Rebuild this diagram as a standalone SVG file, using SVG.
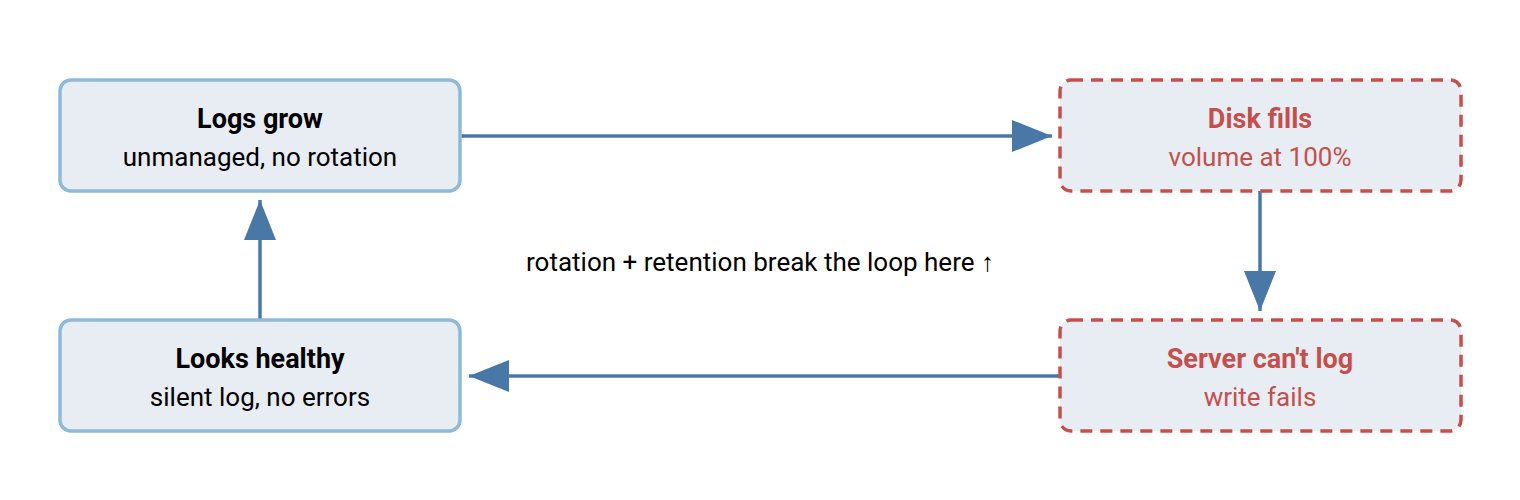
<svg xmlns="http://www.w3.org/2000/svg" width="1520" height="500" viewBox="0 0 1520 500">
<style>
.box{fill:#e8edf4;stroke:#8fb9d7;stroke-width:3.5}
.warn{fill:#e8edf4;stroke:#c4504d;stroke-width:3.5;stroke-dasharray:12 8}
.t{font-family:Roboto,"Liberation Sans",sans-serif;font-size:27px;font-weight:bold;text-anchor:middle;fill:#000}
.s{font-family:Roboto,"Liberation Sans",sans-serif;font-size:26px;text-anchor:middle;fill:#000}
.r{fill:#c4504d}
.e{fill:none;stroke:#4a78a6;stroke-width:3.5}
.lbl{font-family:Roboto,"Liberation Sans",sans-serif;font-size:26px;text-anchor:middle;fill:#000}
</style>
<defs>
<marker id="ah" markerUnits="userSpaceOnUse" markerWidth="42" markerHeight="34" refX="40" refY="16" orient="auto">
<path d="M0,0 L40,16 L0,32 Z" fill="#4a78a6"/>
</marker>
</defs>
<rect width="1520" height="500" fill="#fff"/>
<g id="connectors">
<line class="e" x1="460" y1="136" x2="1052" y2="136" marker-end="url(#ah)"/>
<line class="e" x1="1260" y1="191" x2="1260" y2="311" marker-end="url(#ah)"/>
<line class="e" x1="1060" y1="376" x2="469" y2="376" marker-end="url(#ah)"/>
<line class="e" x1="260" y1="320" x2="260" y2="200" marker-end="url(#ah)"/>
</g>
<g id="logs-grow">
<rect class="box" x="60" y="80" width="400" height="111" rx="11"/>
<text class="t" x="260" y="128">Logs grow</text>
<text class="s" x="260" y="166">unmanaged, no rotation</text>
</g>
<g id="disk-fills">
<rect class="warn" x="1060" y="80" width="401" height="111" rx="11"/>
<text class="t r" x="1260" y="128">Disk fills</text>
<text class="s r" x="1260" y="166">volume at 100%</text>
</g>
<g id="server-cant-log">
<rect class="warn" x="1060" y="320" width="401" height="111" rx="11"/>
<text class="t r" x="1260" y="368">Server can't log</text>
<text class="s r" x="1260" y="406">write fails</text>
</g>
<g id="looks-healthy">
<rect class="box" x="60" y="320" width="400" height="111" rx="11"/>
<text class="t" x="260" y="368">Looks healthy</text>
<text class="s" x="260" y="406">silent log, no errors</text>
</g>
<text class="lbl" x="760" y="271">rotation + retention break the loop here ↑</text>
</svg>
